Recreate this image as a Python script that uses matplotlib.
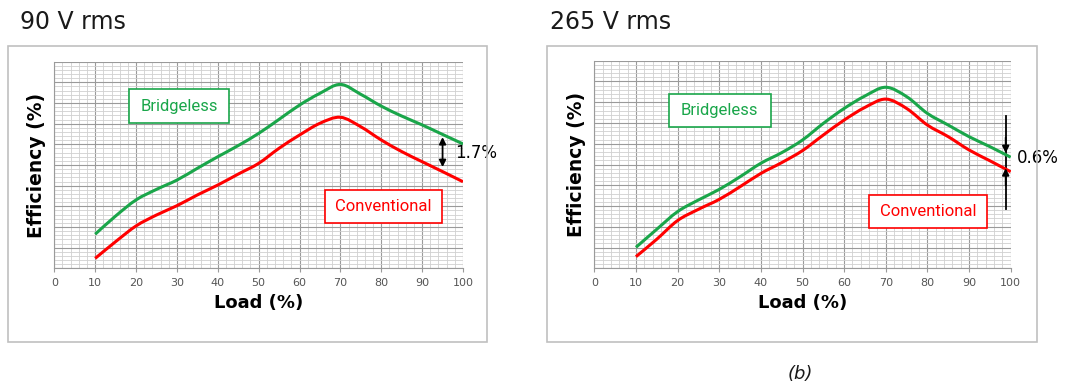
import matplotlib.pyplot as plt
import numpy as np
from matplotlib.patches import Rectangle, PathPatch
from matplotlib.path import Path

W, H = 1070, 387

load = [10, 15, 20, 25, 30, 35, 40, 45, 50, 55, 60, 65, 70, 75, 80, 85, 90, 95, 100]

# 90 V rms
bl_90 = [91.65, 92.53, 93.31, 93.82, 94.27, 94.84, 95.40, 95.94, 96.53, 97.21,
         97.90, 98.47, 98.90, 98.42, 97.85, 97.37, 96.94, 96.48, 96.02]
cv_90 = [90.48, 91.29, 92.05, 92.58, 93.03, 93.55, 94.03, 94.56, 95.08, 95.81,
         96.45, 97.02, 97.31, 96.85, 96.21, 95.65, 95.16, 94.68, 94.19]

# 265 V rms
bl_265 = [91.01, 91.88, 92.73, 93.29, 93.80, 94.41, 95.06, 95.57, 96.18, 96.98,
          97.70, 98.30, 98.72, 98.27, 97.46, 96.90, 96.34, 95.86, 95.35]
cv_265 = [90.56, 91.40, 92.30, 92.84, 93.32, 93.93, 94.57, 95.09, 95.67, 96.42,
          97.14, 97.75, 98.15, 97.70, 96.90, 96.34, 95.70, 95.18, 94.65]

GREEN = '#1aa64a'
RED = '#ff0000'
NARROW = ['Liberation Sans Narrow', 'Roboto', 'DejaVu Sans']

fig = plt.figure(figsize=(W / 100, H / 100), dpi=100)


def px(x0, y0, x1, y1):
    # pixel box -> figure fraction rect
    return [x0 / W, 1 - y1 / H, (x1 - x0) / W, (y1 - y0) / H]


def smooth_line(ax, xs, ys, color):
    # Excel-style smoothed line: bezier segments through the data points
    p = np.column_stack([xs, ys]).astype(float)
    verts = [p[0]]
    codes = [Path.MOVETO]
    n = len(p)
    for i in range(n - 1):
        p0 = p[i - 1] if i > 0 else p[i]
        p3 = p[i + 2] if i + 2 < n else p[i + 1]
        c1 = p[i] + (p[i + 1] - p0) / 6
        c2 = p[i + 1] - (p3 - p[i]) / 6
        verts += [c1, c2, p[i + 1]]
        codes += [Path.CURVE4] * 3
    ax.add_patch(PathPatch(Path(verts, codes), fill=False, edgecolor=color,
                           lw=2.2, capstyle='butt', joinstyle='round', zorder=3))


def panel(rect, frame, title, title_x, bl, cv, boxes):
    r = px(*frame)
    fig.add_artist(Rectangle((r[0], r[1]), r[2], r[3], transform=fig.transFigure,
                             fill=False, edgecolor='#c0c0c0', lw=1.2))
    fig.text(title_x / W, 1 - 22 / H, title, fontsize=17, va='center', ha='left',
             color='#1a1a1a')
    ax = fig.add_axes(px(*rect))
    ax.set_xlim(0, 100)
    ax.set_ylim(90, 100)
    ax.set_xticks(np.arange(0, 101, 10))
    ax.set_xticks(np.arange(0, 101, 2), minor=True)
    ax.set_yticks(np.arange(90, 100.01, 1))
    ax.set_yticks(np.arange(90, 100.01, 0.2), minor=True)
    ax.grid(which='major', color='#9a9a9a', lw=0.8)
    ax.grid(which='minor', color='#d0d0d0', lw=0.6)
    ax.set_axisbelow(True)
    ax.tick_params(axis='x', which='major', length=3, color='#9a9a9a',
                   labelsize=8, labelcolor='#555555', pad=4)
    ax.tick_params(axis='x', which='minor', length=0)
    ax.tick_params(axis='y', which='both', length=0, labelleft=False)
    for s in ['top', 'right']:
        ax.spines[s].set_visible(False)
    for s in ['left', 'bottom']:
        ax.spines[s].set_color('#9a9a9a')
    smooth_line(ax, load, bl, GREEN)
    smooth_line(ax, load, cv, RED)
    ax.set_xlabel('Load (%)', fontsize=13, fontweight='bold', labelpad=4)
    ax.set_ylabel('Efficiency (%)', fontsize=13.5, fontweight='bold', labelpad=6)
    for (x0, x1, y0, y1, txt, col) in boxes:
        ax.add_patch(Rectangle((x0, y0), x1 - x0, y1 - y0, fill=True,
                               facecolor='white', edgecolor=col, lw=1.2, zorder=5))
        ax.text((x0 + x1) / 2, (y0 + y1) / 2, txt, color=col, fontsize=12,
                ha='center', va='center', family=NARROW, zorder=6)
    return ax


ax1 = panel((54.3, 61.7, 463, 268.3), (8, 46, 487, 342), '90 V rms', 20,
            bl_90, cv_90,
            [(18.3, 42.7, 97.03, 98.68, 'Bridgeless', GREEN),
             (66.2, 94.9, 92.19, 93.79, 'Conventional', RED)])
ax1.annotate('', xy=(95, 96.35), xytext=(95, 94.9),
             arrowprops=dict(arrowstyle='<|-|>', color='black', lw=1.3,
                             mutation_scale=10, shrinkA=0, shrinkB=0))
ax1.text(98, 95.6, '1.7%', fontsize=12, va='center', ha='left', clip_on=False)

ax2 = panel((594.3, 60.7, 1010.7, 268.3), (547, 46, 1037, 342), '265 V rms', 550,
            bl_265, cv_265,
            [(17.9, 42.4, 96.81, 98.40, 'Bridgeless', GREEN),
             (66.0, 94.3, 91.94, 93.53, 'Conventional', RED)])
ax2.plot([98.8, 98.8], [92.86, 97.34], color='black', lw=1.3, clip_on=False)
ax2.annotate('', xy=(98.8, 95.55), xytext=(98.8, 96.3),
             arrowprops=dict(arrowstyle='-|>', color='black', lw=1.3,
                             mutation_scale=10, shrinkA=0, shrinkB=0))
ax2.annotate('', xy=(98.8, 94.82), xytext=(98.8, 94.0),
             arrowprops=dict(arrowstyle='-|>', color='black', lw=1.3,
                             mutation_scale=10, shrinkA=0, shrinkB=0))
ax2.text(101.5, 95.3, '0.6%', fontsize=12, va='center', ha='left', clip_on=False)

fig.text(800 / W, 1 - 374 / H, '(b)', fontsize=13, style='italic', ha='center',
         va='center', color='#1a1a1a')

fig.savefig('out.png', dpi=100)
